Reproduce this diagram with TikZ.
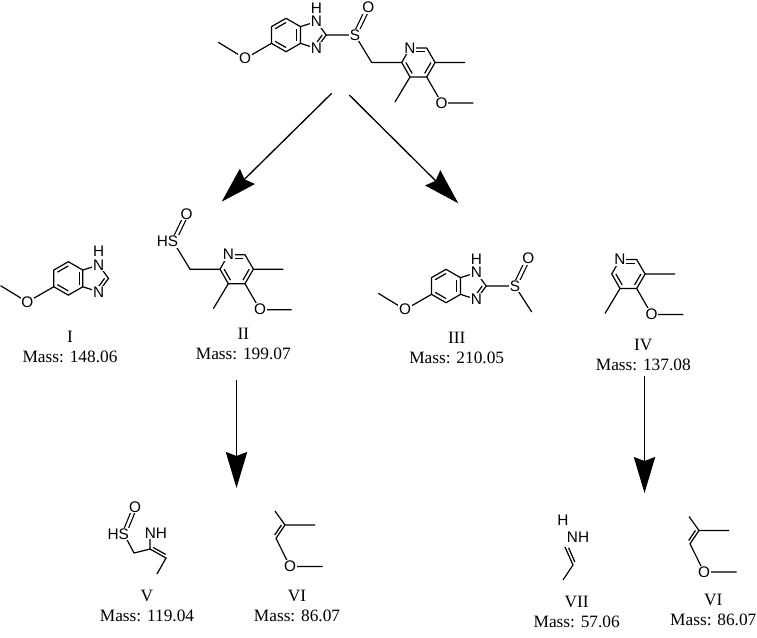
\documentclass[tikz,border=0pt]{standalone}
\usepackage{fontspec}
\setmainfont{Liberation Serif}
\newfontfamily\atomfont{Liberation Sans}
\usetikzlibrary{calc,arrows.meta}

\tikzset{
  bond/.style={line width=0.9pt},
  atomlbl/.style={font=\atomfont\fontsize{11.5}{13}\selectfont,fill=white,inner sep=0.6pt},
  masslbl/.style={font=\fontsize{13}{15}\selectfont,align=center},
  rxn/.style={line width=1pt,-{Stealth[length=27pt,width=16pt,inset=3pt]}}
}

% inner line of a ring double bond (ends, ring centre)
\newcommand{\ringdbl}[3]{\draw[bond] ($(#1)!.25!(#3)$) -- ($(#2)!.25!(#3)$);}
% second line of a chain double bond
\newcommand{\chaindbl}[4]{\draw[bond,shorten <=1.5pt,shorten >=1.5pt] ($(#1)!2.2pt!#3:(#2)$) -- ($(#2)!2.2pt!#4:(#1)$);}

% 5-methoxy-benzimidazole
\newcommand{\benzim}[1]{%
  \coordinate (#1me) at (218.3,42.3);
  \coordinate (#1o) at (245,58.6);
  \coordinate (#1c7) at (286,18.3);
  \coordinate (#1c6) at (271.5,26.65);
  \coordinate (#1c5) at (271.5,43.35);
  \coordinate (#1c4) at (286,51.7);
  \coordinate (#1c3a) at (300.5,43.35);
  \coordinate (#1c7a) at (300.5,26.65);
  \coordinate (#1n1) at (316.4,21.5);
  \coordinate (#1h) at (316.4,7.8);
  \coordinate (#1c2) at (326.2,35);
  \coordinate (#1n3) at (316.4,48.5);
  \coordinate (#1bz) at (286,35);
  \coordinate (#1im) at (312,35);
  \draw[bond] (#1me) -- (#1o) -- (#1c5) -- (#1c6) -- (#1c7) -- (#1c7a) -- (#1c3a) -- (#1c4) -- (#1c5);
  \draw[bond] (#1c7a) -- (#1n1) -- (#1c2) -- (#1n3) -- (#1c3a);
  \ringdbl{#1c7a}{#1c3a}{#1bz}
  \ringdbl{#1c4}{#1c5}{#1bz}
  \ringdbl{#1c6}{#1c7}{#1bz}
  \draw[bond] ($(#1c2)!.28!(#1im)$) -- ($(#1n3)!.28!(#1im)$);
  \node[atomlbl] (#1ol) at (#1o) {O};
  \node[atomlbl] (#1n1l) at (#1n1) {N};
  \node[atomlbl] (#1hl) at (#1h) {H};
  \node[atomlbl] (#1n3l) at (#1n3) {N};
}

% 4-methoxy-3,5-dimethylpyridine
\newcommand{\pyridine}[1]{%
  \coordinate (#1c2) at (401.7,62.5);
  \coordinate (#1n) at (410,48);
  \coordinate (#1c6) at (426.7,48);
  \coordinate (#1c5) at (435.1,62.5);
  \coordinate (#1c4) at (426.7,77);
  \coordinate (#1c3) at (410,77);
  \coordinate (#1ct) at (418.4,62.5);
  \coordinate (#1m5) at (465,62.5);
  \coordinate (#1m3) at (395,102);
  \coordinate (#1o) at (441.7,103);
  \coordinate (#1me) at (473.3,103);
  \draw[bond] (#1c2) -- (#1n) -- (#1c6) -- (#1c5) -- (#1c4) -- (#1c3) -- cycle;
  \draw[bond] (#1c5) -- (#1m5) (#1c3) -- (#1m3) (#1c4) -- (#1o) -- (#1me);
  \ringdbl{#1n}{#1c6}{#1ct}
  \ringdbl{#1c5}{#1c4}{#1ct}
  \ringdbl{#1c3}{#1c2}{#1ct}
  \node[atomlbl] (#1nl) at (#1n) {N};
  \node[atomlbl] (#1ol) at (#1o) {O};
}

% 1-methoxy-2-methylpropene
\newcommand{\enol}[1]{%
  \coordinate (#1a) at (275,511);
  \coordinate (#1b) at (285,525);
  \coordinate (#1c) at (315,525);
  \coordinate (#1d) at (276,538.3);
  \coordinate (#1o) at (290,566.5);
  \coordinate (#1e) at (322.7,566.5);
  \draw[bond] (#1a) -- (#1b) -- (#1c) (#1b) -- (#1d) -- (#1o) -- (#1e);
  \chaindbl{#1b}{#1d}{90}{-90}
  \node[atomlbl] (#1ol) at (#1o) {O};
}

\begin{document}
\begin{tikzpicture}[x=0.75pt,y=0.75pt,yscale=-1,xscale=1]
\useasboundingbox (0,0) rectangle (757,637);

%Shape: parent sulfoxide
\benzim{tb}
\pyridine{tp}
\coordinate (ts) at (355,35);
\coordinate (tso) at (368.3,7.3);
\coordinate (tch) at (371.7,62.5);
\draw[bond] (tbc2) -- (ts) -- (tch) -- (tpc2);
\draw[bond,double,double distance=2pt] (ts) -- (tso);
\node[atomlbl] (tsl) at (ts) {S};
\node[atomlbl] (tsol) at (tso) {O};

%Shape: I
\begin{scope}[shift={(-217.7,243.4)}]
\benzim{ab}
\end{scope}

%Shape: II
\begin{scope}[shift={(-181.7,206.7)}]
\pyridine{bp}
\coordinate (bs) at (355,35);
\coordinate (bso) at (368.3,7.3);
\coordinate (bch) at (371.7,62.5);
\draw[bond] (bs) -- (bch) -- (bpc2);
\draw[bond,double,double distance=2pt] (bs) -- (bso);
\node[atomlbl,anchor=east,xshift=4.4pt] (bsl) at (bs) {HS};
\node[atomlbl] (bsol) at (bso) {O};
\end{scope}

%Shape: III
\begin{scope}[shift={(160,251)}]
\benzim{cb}
\coordinate (cs) at (355,35);
\coordinate (cso) at (368.3,7.3);
\coordinate (cme) at (371.7,61);
\draw[bond] (cbc2) -- (cs) -- (cme);
\draw[bond,double,double distance=2pt] (cs) -- (cso);
\node[atomlbl] (csl) at (cs) {S};
\node[atomlbl] (csol) at (cso) {O};
\end{scope}

%Shape: IV
\begin{scope}[shift={(210,211.5)}]
\pyridine{dp}
\end{scope}

%Shape: V
\coordinate (vs) at (124,534);
\coordinate (vo) at (135,507);
\coordinate (vch) at (134,553);
\coordinate (vc2) at (150,549);
\coordinate (vn) at (150,533);
\coordinate (vc3) at (166,558);
\coordinate (vm) at (157,574);
\draw[bond] (vs) -- (vch) -- (vc2) -- (vc3) -- (vm) (vc2) -- (vn);
\chaindbl{vc2}{vc3}{-90}{90}
\draw[bond,double,double distance=2pt] (vs) -- (vo);
\node[atomlbl,anchor=east,xshift=4.4pt] (vsl) at (vs) {HS};
\node[atomlbl] (vol) at (vo) {O};
\node[atomlbl,anchor=west,xshift=-4.7pt] (vnl) at (vn) {NH};

%Shape: VI
\enol{e}
\begin{scope}[shift={(414,5.5)}]
\enol{f}
\end{scope}

%Shape: VII
\coordinate (gc1) at (565,547);
\coordinate (gc2) at (573,565);
\coordinate (gm) at (563,580);
\draw[bond] (gc1) -- (gc2) -- (gm);
\chaindbl{gc1}{gc2}{-90}{90}
\node[atomlbl] (ghl) at (563,520) {H};
\node[atomlbl] (gnl) at (578,537) {NH};

%Straight Lines: arrows
\coordinate (a1s) at (331.7,93.3);
\coordinate (a1e) at (221.7,201.7);
\coordinate (a2s) at (349.3,95);
\coordinate (a2e) at (458.3,203.3);
\coordinate (a3s) at (236.5,380);
\coordinate (a3e) at (236.5,488);
\coordinate (a4s) at (644.5,376);
\coordinate (a4e) at (644.5,493);
\draw[rxn] (a1s) -- (a1e);
\draw[rxn] (a2s) -- (a2e);
\draw[rxn] (a3s) -- (a3e);
\draw[rxn] (a4s) -- (a4e);

% Text Node
\node[masslbl] (lI) at (70,346.7) {I\\Mass: 148.06};
% Text Node
\node[masslbl] (lII) at (243.3,344) {II\\Mass: 199.07};
% Text Node
\node[masslbl] (lIII) at (456.7,348) {III\\Mass: 210.05};
% Text Node
\node[masslbl] (lIV) at (643.3,355) {IV\\Mass: 137.08};
% Text Node
\node[masslbl] (lV) at (147,605.5) {V\\Mass: 119.04};
% Text Node
\node[masslbl] (lVI) at (297,605.5) {VI\\Mass: 86.07};
% Text Node
\node[masslbl] (lVII) at (576.7,611.7) {VII\\Mass: 57.06};
% Text Node
\node[masslbl] (lVIb) at (713.3,610) {VI\\Mass: 86.07};

\end{tikzpicture}
\end{document}
